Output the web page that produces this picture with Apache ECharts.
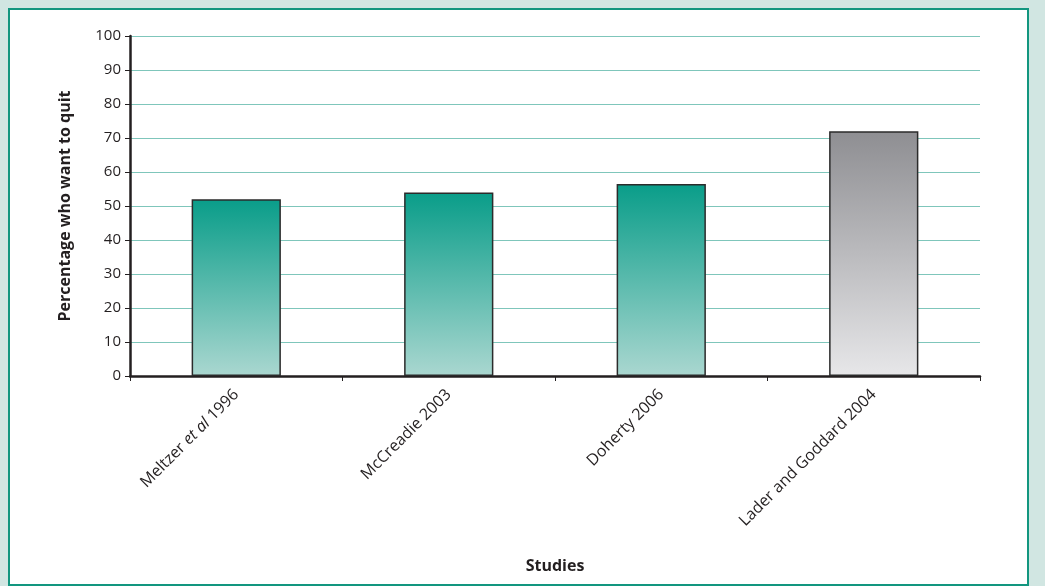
<!DOCTYPE html>
<html>
<head>
<meta charset="utf-8">
<script src="https://cdn.jsdelivr.net/npm/echarts@6/dist/echarts.min.js"></script>
<style>
  html, body { margin: 0; padding: 0; background: #d1e6e2; }
  #panel {
    position: absolute; left: 8px; top: 8px;
    width: 1017px; height: 574px;
    background: #ffffff; border: 2.5px solid #12967f;
  }
  #chart { position: absolute; left: 0; top: 0; width: 1045px; height: 586px; }
</style>
</head>
<body>
<div id="panel"></div>
<div id="chart"></div>
<script>
// Studies and the share of respondents who want to quit smoking (%)
const studies = ['Meltzer et al 1996', 'McCreadie 2003', 'Doherty 2006', 'Lader and Goddard 2004'];
const quitPercent = [52, 54, 56.5, 72];
const yTicks = [0, 10, 20, 30, 40, 50, 60, 70, 80, 90, 100];

const ink = '#231f20';
const tealFill = new echarts.graphic.LinearGradient(0, 0, 0, 1, [
  { offset: 0, color: '#099d89' },
  { offset: 1, color: '#aad7d0' }
]);
const greyFill = new echarts.graphic.LinearGradient(0, 0, 0, 1, [
  { offset: 0, color: '#8e8e92' },
  { offset: 1, color: '#e7e7e9' }
]);

const chart = echarts.init(document.getElementById('chart'), null, { renderer: 'canvas' });

chart.setOption({
  backgroundColor: 'transparent',
  animation: false,
  textStyle: { fontFamily: 'Open Sans', color: ink },
  grid: { left: 130, right: 65, top: 36, bottom: 210, containLabel: false },
  xAxis: {
    type: 'category',
    data: studies,
    name: 'Studies',
    nameLocation: 'middle',
    nameGap: 182,
    nameTextStyle: { fontFamily: 'Open Sans', fontWeight: 'bold', fontSize: 16, color: ink },
    axisLine: { lineStyle: { color: ink, width: 2.5 } },
    axisTick: { show: true, length: 5, lineStyle: { color: ink, width: 1 } },
    axisLabel: {
      rotate: 45,
      margin: 16,
      fontSize: 16,
      color: ink,
      formatter: function (v) {
        if (v.indexOf('et al') >= 0) {
          const parts = v.split('et al');
          return '{n|' + parts[0] + '}{i|et al}{n|' + parts[1] + '}';
        }
        return '{n|' + v + '}';
      },
      rich: {
        n: { fontFamily: 'Open Sans', fontSize: 16, color: ink },
        i: { fontFamily: 'Open Sans', fontStyle: 'italic', fontSize: 16, color: ink }
      }
    },
    splitLine: { show: false }
  },
  yAxis: {
    type: 'value',
    min: yTicks[0],
    max: yTicks[yTicks.length - 1],
    interval: yTicks[1] - yTicks[0],
    name: 'Percentage who want to quit',
    nameLocation: 'middle',
    nameGap: 57,
    nameRotate: 90,
    nameTextStyle: { fontFamily: 'Open Sans', fontWeight: 'bold', fontSize: 16, color: ink },
    axisLine: { show: true, lineStyle: { color: ink, width: 2.5 } },
    axisTick: { show: true, length: 5, lineStyle: { color: ink, width: 1 } },
    axisLabel: { margin: 9, fontSize: 15, color: ink },
    splitLine: { show: true, lineStyle: { color: '#7fc6bb', width: 1 } }
  },
  series: [{
    type: 'bar',
    data: quitPercent.map(function (v, i) {
      return {
        value: v,
        itemStyle: { color: i === quitPercent.length - 1 ? greyFill : tealFill }
      };
    }),
    barWidth: '42%',
    itemStyle: { borderColor: '#2b2b2b', borderWidth: 1.5 }
  }]
});
</script>
</body>
</html>
